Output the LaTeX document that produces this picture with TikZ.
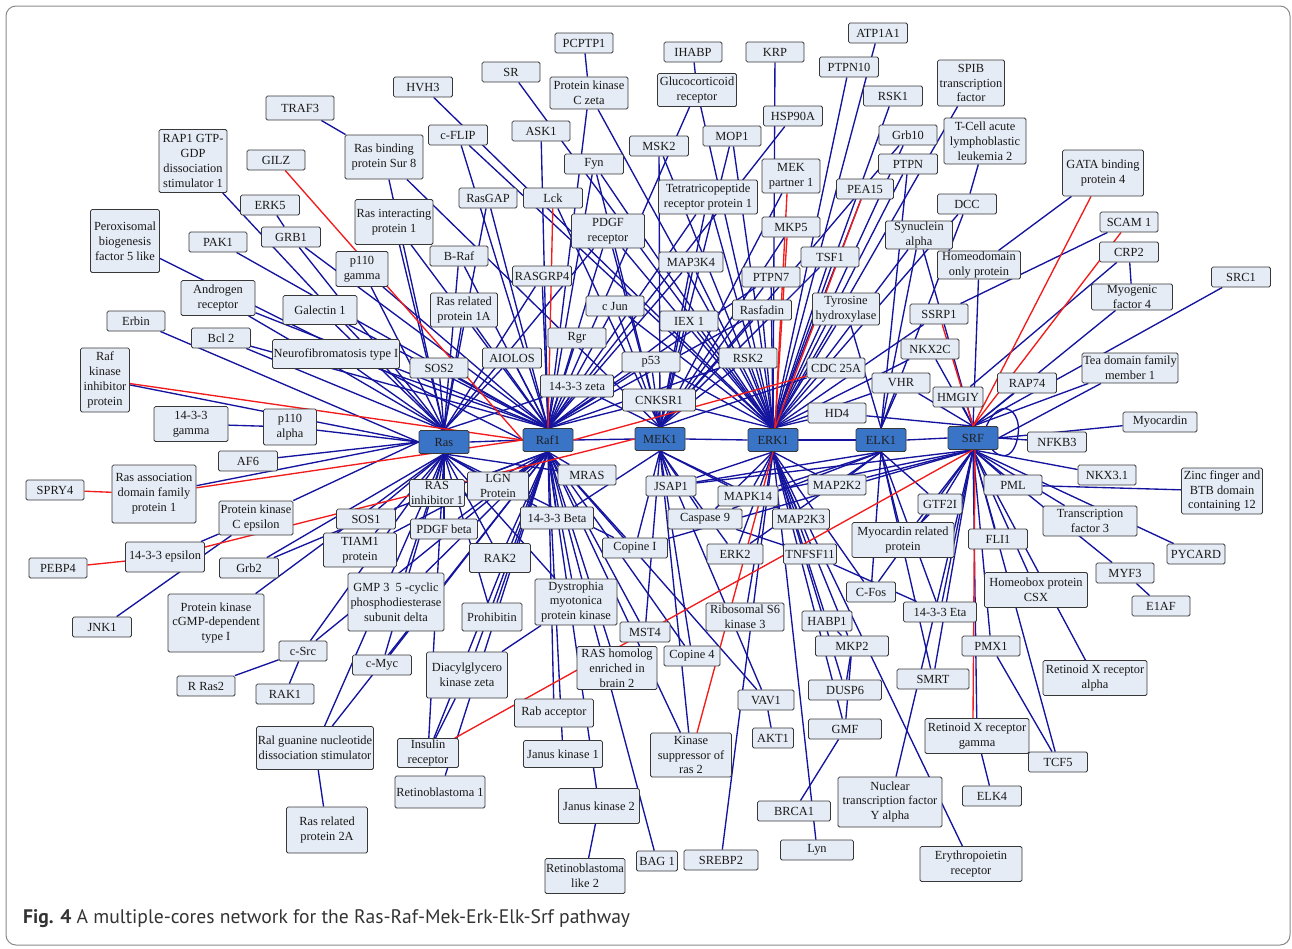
\documentclass[tikz,border=0pt]{standalone}
\usepackage{fontspec}
\setmainfont{Liberation Serif}
\newfontfamily\capfont{PT Sans}
\definecolor{nodefill}{HTML}{E6ECF5}
\definecolor{hubfill}{HTML}{3A74C6}
\definecolor{edgeblue}{HTML}{14149E}
\definecolor{edgered}{HTML}{F21C1C}
\definecolor{framegray}{HTML}{8A8A8A}
\pgfdeclarelayer{bg}
\pgfsetlayers{bg,main}
\tikzset{
  nb/.style={draw=black!78, fill=nodefill, rounded corners=1.6pt, line width=0.85pt,
    font=\fontsize{12.4}{14.8}\selectfont, text=black!90, align=center, inner sep=1pt},
  sz/.style 2 args={minimum width=#1pt, minimum height=#2pt},
  hub/.style={nb, fill=hubfill, text=black!88, minimum width=50pt, minimum height=23pt},
  e/.style={draw=edgeblue, line width=1.35pt},
  r/.style={draw=edgered, line width=1.35pt},
}
\begin{document}
\begin{tikzpicture}[x=1pt,y=-1pt]
\useasboundingbox (0,0) rectangle (1292,948);
\draw[framegray, line width=1pt, rounded corners=10pt] (6,6) rectangle (1290,945);
% hubs
\node[hub] (ras) at (444,442) {Ras};
\node[hub] (raf1) at (548,440) {Raf1};
\node[hub] (mek1) at (660,439) {MEK1};
\node[hub] (erk1) at (773,440) {ERK1};
\node[hub] (elk1) at (881,440) {ELK1};
\node[hub] (srf) at (973,438) {SRF};
% left
\node[nb,sz={68}{24}] (traf3) at (300,108) {TRAF3};
\node[nb,sz={68}{63}] (rap1) at (193,161) {RAP1 GTP-\\GDP\\dissociation\\stimulator 1};
\node[nb,sz={58}{20}] (gilz) at (276,160) {GILZ};
\node[nb,sz={59}{20}] (erk5) at (270,205) {ERK5};
\node[nb,sz={69}{63}] (pex5) at (125,241) {Peroxisomal\\biogenesis\\factor 5 like};
\node[nb,sz={58}{20}] (pak1) at (218,242) {PAK1};
\node[nb,sz={59}{20}] (grb1) at (291,237) {GRB1};
\node[nb,sz={74}{35}] (ar) at (218,298) {Androgen\\receptor};
\node[nb,sz={74}{29}] (gal1) at (320,310) {Galectin 1};
\node[nb,sz={58}{20}] (erbin) at (136,321) {Erbin};
\node[nb,sz={59}{20}] (bcl2) at (221,338) {Bcl 2};
\node[nb,sz={127}{29}] (nf1) at (336,354) {Neurofibromatosis type I};
\node[nb,sz={49}{64}] (rkip) at (105,380) {Raf\\kinase\\inhibitor\\protein};
\node[nb,sz={74}{35}] (g1433) at (191,424) {14-3-3\\gamma};
\node[nb,sz={53}{36}] (p110a) at (290,427) {p110\\alpha};
\node[nb,sz={59}{20}] (af6) at (248,461) {AF6};
\node[nb,sz={58}{20}] (spry4) at (55,490) {SPRY4};
\node[nb,sz={84}{58}] (rassf1) at (154,494) {Ras association\\domain family\\protein 1};
\node[nb,sz={74}{34}] (pkce) at (256,518) {Protein kinase\\C epsilon};
\node[nb,sz={79}{30}] (e1433) at (165,557) {14-3-3 epsilon};
\node[nb,sz={58}{20}] (pebp4) at (58,568) {PEBP4};
\node[nb,sz={59}{20}] (grb2) at (249,568) {Grb2};
\node[nb,sz={96}{58}] (pkg) at (216,623) {Protein kinase\\cGMP-dependent\\type I};
\node[nb,sz={59}{20}] (jnk1) at (102,627) {JNK1};
\node[nb,sz={48}{20}] (csrc) at (303,651) {c-Src};
\node[nb,sz={58}{20}] (rras2) at (206,686) {R Ras2};
\node[nb,sz={58}{20}] (rak1) at (285,694) {RAK1};
\node[nb,sz={117}{43}] (ral) at (315,748) {Ral guanine nucleotide\\dissociation stimulator};
\node[nb,sz={81}{46}] (rr2a) at (327,830) {Ras related\\protein 2A};
% center-left
\node[nb,sz={59}{20}] (hvh3) at (423,87) {HVH3};
\node[nb,sz={58}{20}] (sr) at (511,72) {SR};
\node[nb,sz={58}{20}] (pcptp1) at (584,43) {PCPTP1};
\node[nb,sz={78}{32}] (pkcz) at (589,93) {Protein kinase\\C zeta};
\node[nb,sz={78}{44}] (sur8) at (384,157) {Ras binding\\protein Sur 8};
\node[nb,sz={59}{20}] (cflip) at (458,135) {c-FLIP};
\node[nb,sz={58}{20}] (ask1) at (541,131) {ASK1};
\node[nb,sz={59}{20}] (fyn) at (594,164) {Fyn};
\node[nb,sz={58}{20}] (rasgap) at (488,198) {RasGAP};
\node[nb,sz={59}{20}] (lck) at (553,198) {Lck};
\node[nb,sz={78}{45}] (rip1) at (394,222) {Ras interacting\\protein 1};
\node[nb,sz={73}{34}] (pdgfr) at (608,231) {PDGF\\receptor};
\node[nb,sz={58}{20}] (braf) at (459,256) {B-Raf};
\node[nb,sz={52}{35}] (p110g) at (362,269) {p110\\gamma};
\node[nb,sz={59}{20}] (rasgrp4) at (542,276) {RASGRP4};
\node[nb,sz={67}{34}] (rr1a) at (464,310) {Ras related\\protein 1A};
\node[nb,sz={58}{20}] (cjun) at (615,306) {c Jun};
\node[nb,sz={59}{20}] (aiolos) at (512,358) {AIOLOS};
\node[nb,sz={58}{20}] (rgr) at (577,338) {Rgr};
\node[nb,sz={58}{20}] (sos2) at (439,368) {SOS2};
\node[nb,sz={73}{22}] (z1433) at (577,386) {14-3-3 zeta};
\node[nb,sz={58}{20}] (p53) at (651,362) {p53};
\node[nb,sz={73}{22}] (cnksr1) at (659,400) {CNKSR1};
\node[nb,sz={58}{20}] (mras) at (587,475) {MRAS};
\node[nb,sz={61}{28}] (lgn) at (498,486) {LGN\\Protein};
\node[nb,sz={55}{27}] (rasi1) at (437,493) {RAS\\inhibitor 1};
\node[nb,sz={73}{22}] (b1433) at (557,518) {14-3-3 Beta};
\node[nb,sz={59}{20}] (sos1) at (366,519) {SOS1};
\node[nb,sz={67}{20}] (pdgfb) at (444,529) {PDGF beta};
\node[nb,sz={73}{34}] (tiam1) at (360,550) {TIAM1\\protein};
\node[nb,sz={61}{29}] (rak2) at (500,558) {RAK2};
\node[nb,sz={65}{20}] (copi) at (635,548) {Copine I};
\node[nb,sz={96}{58}] (gmp) at (396,602) {GMP 3\ \ 5 -cyclic\\phosphodiesterase\\subunit delta};
\node[nb,sz={60}{28}] (prohib) at (492,617) {Prohibitin};
\node[nb,sz={82}{46}] (dmpk) at (576,602) {Dystrophia\\myotonica\\protein kinase};
\node[nb,sz={59}{20}] (cmyc) at (382,665) {c-Myc};
\node[nb,sz={81}{46}] (dgkz) at (467,675) {Diacylglycero\\kinase zeta};
\node[nb,sz={50}{20}] (mst4) at (645,632) {MST4};
\node[nb,sz={80}{43}] (rheb2) at (617,668) {RAS homolog\\enriched in\\brain 2};
\node[nb,sz={79}{28}] (rab) at (554,713) {Rab acceptor};
\node[nb,sz={61}{29}] (insr) at (428,753) {Insulin\\receptor};
\node[nb,sz={79}{27}] (jak1) at (563,754) {Janus kinase 1};
\node[nb,sz={90}{32}] (rb1) at (440,792) {Retinoblastoma 1};
\node[nb,sz={81}{35}] (jak2) at (599,806) {Janus kinase 2};
\node[nb,sz={80}{35}] (rbl2) at (585,876) {Retinoblastoma\\like 2};
\node[nb,sz={41}{20}] (bag1) at (657,861) {BAG 1};
% center-right
\node[nb,sz={58}{20}] (ihabp) at (693,52) {IHABP};
\node[nb,sz={58}{20}] (krp) at (775,52) {KRP};
\node[nb,sz={59}{20}] (atp1a1) at (878,33) {ATP1A1};
\node[nb,sz={79}{33}] (gr) at (697,90) {Glucocorticoid\\receptor};
\node[nb,sz={59}{20}] (ptpn10) at (849,67) {PTPN10};
\node[nb,sz={59}{20}] (rsk1) at (893,96) {RSK1};
\node[nb,sz={59}{20}] (hsp90a) at (793,116) {HSP90A};
\node[nb,sz={59}{20}] (msk2) at (659,146) {MSK2};
\node[nb,sz={58}{20}] (mop1) at (732,136) {MOP1};
\node[nb,sz={58}{20}] (grb10) at (908,135) {Grb10};
\node[nb,sz={58}{34}] (mekp1) at (791,176) {MEK\\partner 1};
\node[nb,sz={59}{20}] (ptpn) at (908,164) {PTPN};
\node[nb,sz={99}{34}] (ttc) at (708,197) {Tetratricopeptide\\receptor protein 1};
\node[nb,sz={57}{20}] (pea15) at (865,189) {PEA15};
\node[nb,sz={67}{46}] (spib) at (971,83) {SPIB\\transcription\\factor};
\node[nb,sz={82}{46}] (tal2) at (985,141) {T-Cell acute\\lymphoblastic\\leukemia 2};
\node[nb,sz={58}{20}] (mkp5) at (791,227) {MKP5};
\node[nb,sz={67}{26}] (snca) at (919,235) {Synuclein\\alpha};
\node[nb,sz={59}{20}] (dcc) at (967,204) {DCC};
\node[nb,sz={81}{46}] (gata4) at (1103,173) {GATA binding\\protein 4};
\node[nb,sz={58}{20}] (tsf1) at (830,257) {TSF1};
\node[nb,sz={64}{20}] (map3k4) at (691,262) {MAP3K4};
\node[nb,sz={58}{20}] (ptpn7) at (771,277) {PTPN7};
\node[nb,sz={83}{27}] (hop) at (979,265) {Homeodomain\\only protein};
\node[nb,sz={58}{20}] (scam1) at (1129,222) {SCAM 1};
\node[nb,sz={59}{20}] (crp2) at (1129,252) {CRP2};
\node[nb,sz={59}{20}] (src1) at (1241,277) {SRC1};
\node[nb,sz={81}{26}] (myf4) at (1132,297) {Myogenic\\factor 4};
\node[nb,sz={67}{32}] (th) at (846,309) {Tyrosine\\hydroxylase};
\node[nb,sz={59}{20}] (rasfadin) at (762,310) {Rasfadin};
\node[nb,sz={58}{20}] (ssrp1) at (939,314) {SSRP1};
\node[nb,sz={58}{20}] (iex1) at (689,321) {IEX 1};
\node[nb,sz={58}{20}] (rsk2) at (748,358) {RSK2};
\node[nb,sz={58}{20}] (nkx2c) at (930,349) {NKX2C};
\node[nb,sz={58}{20}] (cdc25a) at (836,368) {CDC 25A};
\node[nb,sz={58}{20}] (vhr) at (901,383) {VHR};
\node[nb,sz={50}{20}] (hmgiy) at (958,397) {HMGIY};
\node[nb,sz={59}{20}] (rap74) at (1027,383) {RAP74};
\node[nb,sz={96}{30}] (tead1) at (1130,368) {Tea domain family\\member 1};
\node[nb,sz={58}{20}] (hd4) at (837,413) {HD4};
\node[nb,sz={74}{20}] (myocd) at (1160,422) {Myocardin};
\node[nb,sz={59}{20}] (nfkb3) at (1057,442) {NFKB3};
\node[nb,sz={58}{20}] (nkx31) at (1107,475) {NKX3.1};
\node[nb,sz={81}{46}] (zbtb12) at (1222,491) {Zinc finger and\\BTB domain\\containing 12};
\node[nb,sz={58}{20}] (pml) at (1013,485) {PML};
\node[nb,sz={94}{30}] (tf3) at (1090,521) {Transcription\\factor 3};
\node[nb,sz={59}{20}] (fli1) at (998,539) {FLI1};
\node[nb,sz={58}{20}] (pycard) at (1196,554) {PYCARD};
\node[nb,sz={58}{20}] (myf3) at (1125,573) {MYF3};
\node[nb,sz={103}{35}] (csx) at (1036,590) {Homeobox protein\\CSX};
\node[nb,sz={58}{20}] (e1af) at (1161,606) {E1AF};
\node[nb,sz={50}{20}] (jsap1) at (671,486) {JSAP1};
\node[nb,sz={60}{20}] (mapk14) at (748,496) {MAPK14};
\node[nb,sz={58}{20}] (map2k2) at (837,485) {MAP2K2};
\node[nb,sz={74}{20}] (casp9) at (705,519) {Caspase 9};
\node[nb,sz={57}{20}] (map2k3) at (801,519) {MAP2K3};
\node[nb,sz={44}{20}] (gtf2i) at (940,504) {GTF2I};
\node[nb,sz={102}{35}] (mrtf) at (903,540) {Myocardin related\\protein};
\node[nb,sz={56}{20}] (erk2) at (735,554) {ERK2};
\node[nb,sz={53}{20}] (tnfsf11) at (810,554) {TNFSF11};
\node[nb,sz={49}{20}] (cfos) at (871,592) {C-Fos};
\node[nb,sz={73}{20}] (eta1433) at (940,612) {14-3-3 Eta};
\node[nb,sz={78}{28}] (rsk3) at (745,617) {Ribosomal S6\\kinase 3};
\node[nb,sz={50}{20}] (habp1) at (827,621) {HABP1};
\node[nb,sz={56}{20}] (copine4) at (692,656) {Copine 4};
\node[nb,sz={73}{20}] (mkp2) at (852,646) {MKP2};
\node[nb,sz={73}{20}] (dusp6) at (845,690) {DUSP6};
\node[nb,sz={56}{20}] (vav1) at (766,700) {VAV1};
\node[nb,sz={72}{20}] (smrt) at (933,679) {SMRT};
\node[nb,sz={73}{20}] (gmf) at (845,729) {GMF};
\node[nb,sz={41}{20}] (akt1) at (773,738) {AKT1};
\node[nb,sz={81}{44}] (ksr2) at (691,755) {Kinase\\suppressor of\\ras 2};
\node[nb,sz={104}{35}] (rxrg) at (977,736) {Retinoid X receptor\\gamma};
\node[nb,sz={58}{20}] (pmx1) at (991,646) {PMX1};
\node[nb,sz={104}{35}] (rxra) at (1095,678) {Retinoid X receptor\\alpha};
\node[nb,sz={59}{20}] (tcf5) at (1058,762) {TCF5};
\node[nb,sz={59}{20}] (elk4) at (992,796) {ELK4};
\node[nb,sz={73}{20}] (brca1) at (794,811) {BRCA1};
\node[nb,sz={104}{50}] (nfya) at (890,802) {Nuclear\\transcription factor\\Y alpha};
\node[nb,sz={73}{20}] (lyn) at (817,850) {Lyn};
\node[nb,sz={102}{35}] (epor) at (971,864) {Erythropoietin\\receptor};
\node[nb,sz={74}{20}] (srebp2) at (721,860) {SREBP2};
% caption
\node[anchor=west, inner sep=0pt, font=\capfont\fontsize{19.6}{23}\selectfont, text=black!80] (cap) at (23,919) {\textbf{Fig. 4} A multiple-cores network for the Ras-Raf-Mek-Erk-Elk-Srf pathway};
% edges
\begin{pgfonlayer}{bg}
\foreach \n in {rap1,gal1,grb1,nf1,sos2,sur8,rip1,p110g,braf,rasgap,rr1a,aiolos,rasgrp4,ar,bcl2,z1433,pdgfr}
  \draw[e] (\n) -- (ras.north);
\foreach \n in {erbin,rkip,p110a,af6,rassf1,pkce}
  \draw[e] (\n) -- (ras.west);
\foreach \n in {grb2,pkg,csrc,tiam1,sos1,rasi1,lgn,pdgfb,gmp,ral,cmyc,insr,rak2,prohib,mras,b1433,copi,dmpk}
  \draw[e] (\n) -- (ras.south);
\foreach \n in {pak1,gal1,grb1,nf1,ar,bcl2,p110g,rip1,braf,rr1a,rasgap,cflip,ask1,pkcz,fyn,pdgfr,cjun,rasgrp4,rgr,aiolos,sos2,z1433,p53,cnksr1,iex1,gr,hsp90a,ttc,map3k4,ptpn7,rasfadin,rsk2}
  \draw[e] (\n) -- (raf1.north);
\draw[e] (pex5) -- (raf1.west);
\foreach \n in {mras,lgn,b1433,rak2,prohib,dmpk,rab,jak1,jak2,rb1,bag1,rheb2,copi,copine4,vav1,dgkz,insr,gmp,tiam1,rasi1,pdgfb,sos1,cmyc,ral,csrc,ksr2,mst4}
  \draw[e] (\n) -- (raf1.south);
\foreach \n in {sur8,lck,fyn,cjun,z1433,p53,cnksr1,iex1,map3k4,ttc,msk2,mop1,mekp1,mkp5,grb10,tsf1,ptpn7,rasfadin,rsk2,cdc25a,pdgfr}
  \draw[e] (\n) -- (mek1.north);
\foreach \n in {jsap1,mapk14,casp9,copi,erk2,mst4,copine4,vav1,ksr2,map2k3,b1433}
  \draw[e] (\n) -- (mek1.south);
\foreach \n in {hvh3,sr,pkcz,cjun,pdgfr,fyn,msk2,ttc,gr,mop1,krp,ptpn10,atp1a1,rsk1,grb10,ptpn,pea15,spib,dcc,snca,tsf1,ptpn7,rasfadin,th,iex1,p53,cnksr1,map3k4,rsk2,cdc25a,hd4,ssrp1,nkx2c,vhr,cflip}
  \draw[e] (\n) -- (erk1.north);
\foreach \n in {mapk14,map2k2,map2k3,erk2,tnfsf11,rsk3,habp1,mkp2,dusp6,gmf,lyn,srebp2,epor,jsap1,casp9,cfos}
  \draw[e] (\n) -- (erk1.south);
\foreach \n in {ptpn,snca,vhr,th,dcc}
  \draw[e] (\n) -- (elk1.north);
\foreach \n in {map2k2,gtf2i,mrtf,cfos,casp9,erk2,mapk14,smrt,eta1433,jsap1}
  \draw[e] (\n) -- (elk1.south);
\foreach \n in {hmgiy,rap74,tead1,myf4,src1,hop,nkx2c,vhr,snca,hd4}
  \draw[e] (\n) -- (srf.north);
\foreach \n in {myocd,nfkb3,tead1}
  \draw[e] (\n) -- (srf.east);
\foreach \n in {nkx31,pml,tf3,pycard,myf3,fli1,csx,pmx1,rxrg,rxra,tcf5,smrt,nfya,eta1433,mrtf,gtf2i,cfos,map2k2,jsap1,copi,mapk14}
  \draw[e] (\n) -- (srf.south);
% hub chain
\draw[e] (ras.east) -- (raf1.west);
\draw[e] (raf1.east) -- (mek1.west);
\draw[e] (mek1.east) -- (erk1.west);
\draw[e] (erk1.east) -- (elk1.west);
\draw[e] (elk1.east) -- (srf.west);
% peripheral links
\foreach \a/\b in {traf3/sur8,erk5/grb1,tal2/dcc,gata4/hop,crp2/myf4,crp2/hmgiy,scam1/ssrp1,g1433/p110a,e1433/pkce,jnk1/pkce,grb2/sos1,rras2/csrc,rak1/csrc,rr2a/ral,rbl2/jak2,akt1/vav1,brca1/gmf,gmf/mkp2,dusp6/mkp2,habp1/mkp2,elk4/rxrg,pmx1/tcf5,e1af/myf3,pml/zbtb12,gtf2i/mrtf,dgkz/insr,dgkz/dmpk,tnfsf11/eta1433,casp9/tnfsf11,pcptp1/pkcz,ihabp/gr}
  \draw[e] (\a) -- (\b);
% self loop
\draw[e] ([xshift=-12pt]srf.north east) .. controls (1000,395) and (1022,410) .. (1018,435) .. controls (1015,455) and (1004,462) .. ([xshift=-6pt]srf.south east);
% red edges
\foreach \n in {gilz,rkip,rassf1}
  \draw[r] (\n) -- (raf1.west);
\draw[r] (lck) -- (raf1.north);
\draw[r] (cdc25a) -- (raf1.east);
\draw[r] (e1433) -- (mek1.west);
\foreach \n in {mekp1,mkp5,pea15}
  \draw[r] ([xshift=-4pt]\n.south) -- ([xshift=2pt]erk1.north);
\draw[r] (ksr2) -- (erk1.south);
\foreach \n in {gata4,scam1,ssrp1}
  \draw[r] (\n) -- (srf.north);
\draw[r] ([xshift=-4pt]rxrg.north) -- ([xshift=2pt]srf.south);
\draw[r] (insr) -- (srf.south);
\draw[r] (spry4) -- (rassf1);
\draw[r] (pebp4) -- (e1433);
\end{pgfonlayer}
\end{tikzpicture}
\end{document}
